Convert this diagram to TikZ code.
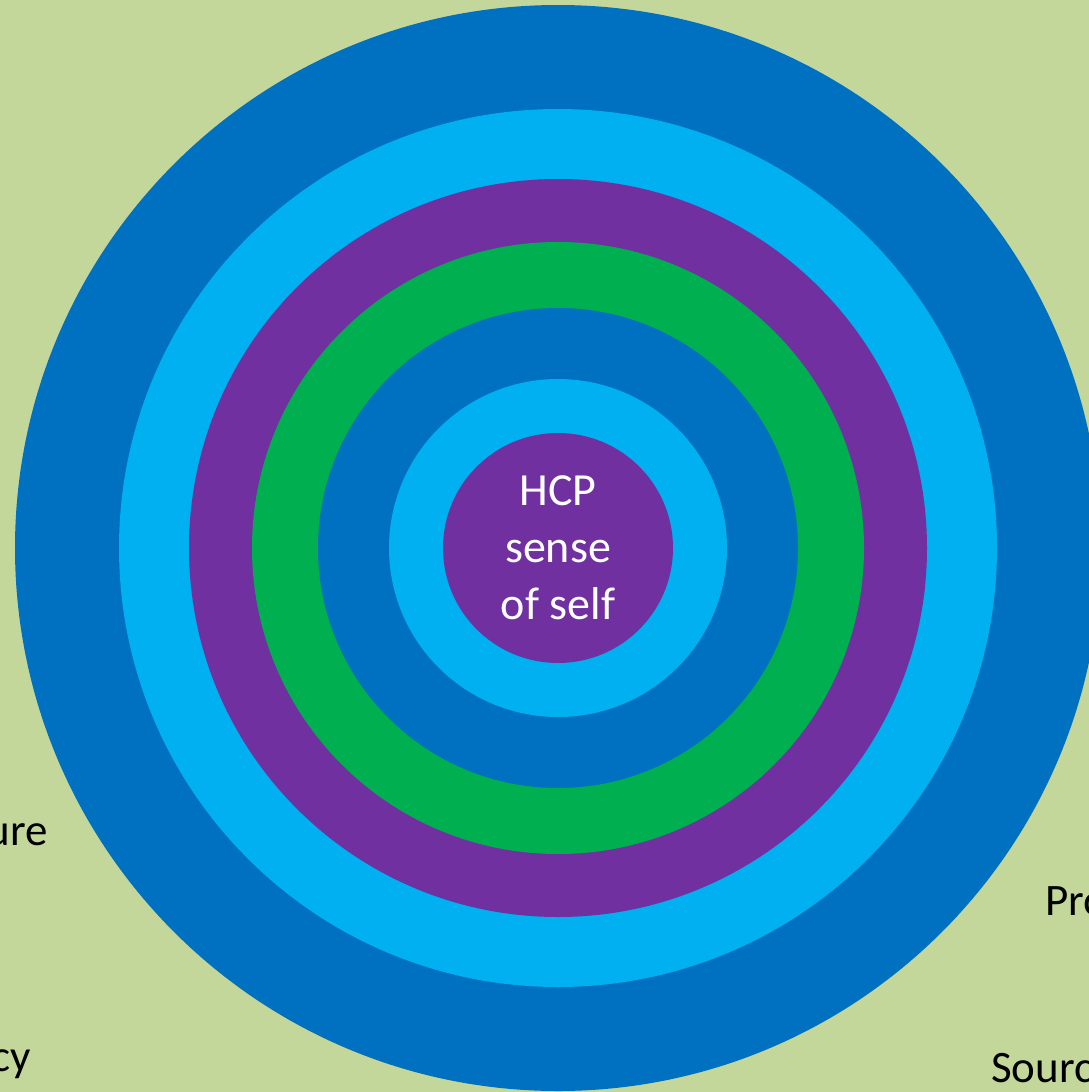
\documentclass[tikz,border=0pt]{standalone}
\usepackage{fontspec}
\setmainfont{Carlito}
\definecolor{fondo}{HTML}{C4D79B}
\definecolor{azul}{HTML}{0070C0}
\definecolor{celeste}{HTML}{00B0F0}
\definecolor{morado}{HTML}{7030A0}
\definecolor{verde}{HTML}{00B050}

\begin{document}
\begin{tikzpicture}[x=1pt, y=-1pt, font=\fontsize{45}{57}\selectfont,
  etiqueta/.style={text=black, inner sep=0pt}]
  % Fondo y marco
  \fill[fondo] (0,0) rectangle (1089,1092);
  \useasboundingbox (0,0) rectangle (1089,1092);
  \clip (0,0) rectangle (1089,1092);

  % Anillos concentricos, de fuera hacia dentro
  \coordinate (O) at (558,548);
  \foreach \r/\c in {543/azul, 439/celeste, 369/morado, 306/verde,
                     240/azul, 169/celeste, 115/morado}
    \fill[\c] (O) circle (\r pt);

  % Texto central
  \node[text=white, align=center, font=\fontsize{46}{57}\selectfont]
    (nucleo) at (558,548) {HCP\\sense\\of self};

  % Etiquetas cortadas por el borde
  \node[etiqueta, anchor=base east] (izqA) at (48,845) {ure};
  \node[etiqueta, anchor=base east] (izqB) at (31,1071) {cy};
  \node[etiqueta, anchor=base west] (derA) at (1045,915) {Pro};
  \node[etiqueta, anchor=base west] (derB) at (991,1082) {Sourc};
\end{tikzpicture}
\end{document}
